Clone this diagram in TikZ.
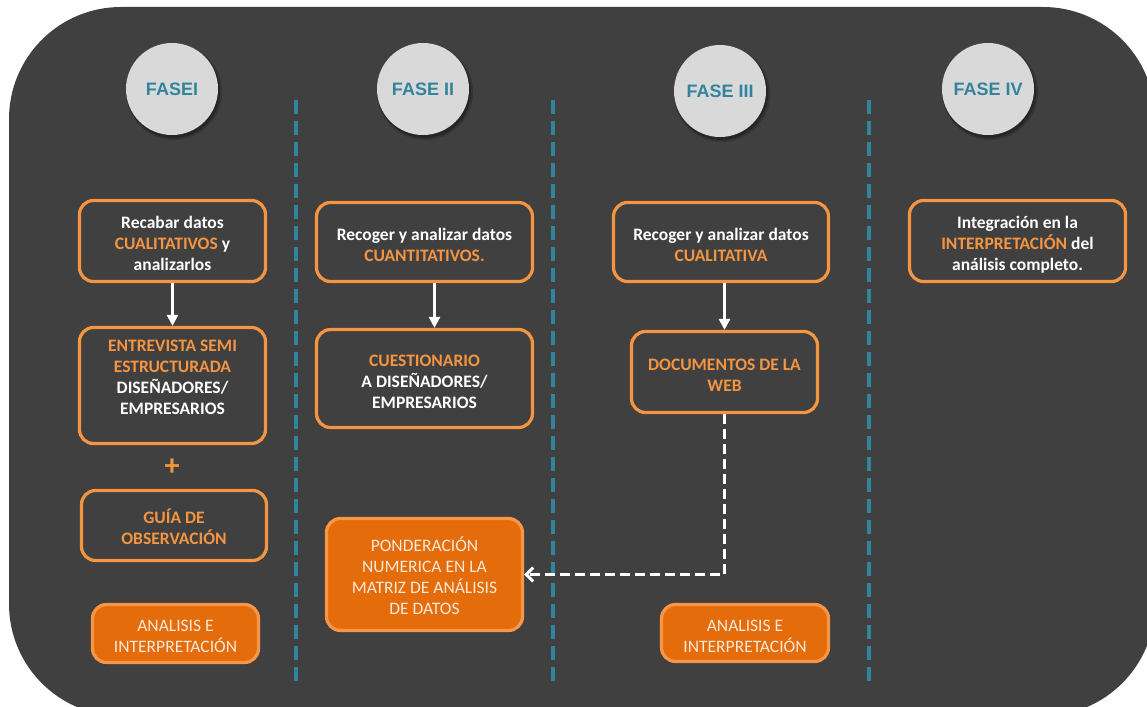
\documentclass[tikz,border=0pt]{standalone}
\usepackage{fontspec}
\setmainfont{Carlito}
\newfontfamily\arialfont{Liberation Sans}
\usetikzlibrary{arrows.meta}
\definecolor{bg}{HTML}{404040}
\definecolor{orgline}{HTML}{F59541}
\definecolor{ot}{HTML}{F59541}
\definecolor{fillorg}{HTML}{E46C0A}
\definecolor{fillline}{HTML}{F79646}
\definecolor{cream}{HTML}{FDE9D9}
\definecolor{teal}{HTML}{31849B}
\definecolor{cgray}{HTML}{D9D9D9}
\newcommand{\boxtext}[2][-8.7pt]{\raisebox{#1}[0pt][0pt]{\begin{tabular}{@{}c@{}}#2\end{tabular}}}
\tikzset{
  fasecirc/.style={circle, fill=cgray, minimum size=92pt, inner sep=0pt,
    font=\arialfont\fontsize{18}{20}\selectfont\bfseries, text=teal},
  darkbox/.style={draw=orgline, line width=3.2pt, rounded corners=14pt, fill=bg,
    text=white, inner sep=0pt,
    font=\fontsize{17.5}{21}\selectfont\bfseries},
  orgbox/.style={draw=fillline, line width=3.2pt, rounded corners=14pt, fill=fillorg,
    text=cream, inner sep=0pt,
    font=\fontsize{17.5}{21}\selectfont},
  sz/.style 2 args={minimum width=#1pt, minimum height=#2pt},
  warrow/.style={draw=white, line width=2.5pt, -{Triangle[length=11pt,width=11pt]}},
  darrow/.style={draw=white, line width=3pt, dash pattern=on 10pt off 5pt,
    -{Straight Barb[length=7pt,width=14pt,line width=3pt]}},
  phaseline/.style={draw=teal, line width=4.5pt, dash pattern=on 14pt off 7pt},
  shadowc/.style={fill=black, opacity=#1}
}
\begin{document}
\begin{tikzpicture}[x=1pt,y=-1pt]
\clip (0,0) rectangle (1147,706);
\fill[white] (0,0) rectangle (1147,706);
\fill[bg, rounded corners=112pt] (9,7) rectangle (1155,716);

% phase separators
\foreach \xx in {296,553,869} \draw[phaseline] (\xx,100) -- (\xx,681);

% circle shadows
\foreach \cx/\cy in {172/89,423/89,720/91,988/89}{
  \fill[shadowc=0.18] (\cx+2,\cy+3) circle (48pt);
  \fill[shadowc=0.25] (\cx+1.5,\cy+2.5) circle (46.5pt);
}
\node[fasecirc] (f1) at (172,89) {FASEI};
\node[fasecirc] (f2) at (423,89) {FASE II};
\node[fasecirc] (f3) at (720,91) {FASE III};
\node[fasecirc] (f4) at (988,89) {FASE IV};

% phase I
\node[darkbox, sz={186}{81}] (a1) at (172.5,241) {\boxtext{Recabar datos\\\textcolor{ot}{CUALITATIVOS} y\\analizarlos}};
\node[darkbox, sz={186}{116}] (a2) at (172.5,385.5) {\boxtext[2.6pt]{\textcolor{ot}{ENTREVISTA SEMI}\\\textcolor{ot}{ESTRUCTURADA}\\DISEÑADORES/\\EMPRESARIOS}};
\node[text=ot, font=\fontsize{30}{30}\selectfont\bfseries] (plus) at (172,467) {+};
\node[darkbox, sz={185}{70}, text=ot] (a3) at (174,525.5) {\boxtext{GUÍA DE\\OBSERVACIÓN}};
\node[orgbox, sz={166}{58}] (a4) at (175.5,633.5) {\boxtext{ANALISIS E\\INTERPRETACIÓN}};

% phase II
\node[darkbox, sz={216}{79}] (b1) at (424.5,242) {\boxtext{Recoger y analizar datos\\\textcolor{ot}{CUANTITATIVOS.}}};
\node[darkbox, sz={216}{98}] (b2) at (424.5,378.5) {\boxtext{\textcolor{ot}{CUESTIONARIO}\\A DISEÑADORES/\\EMPRESARIOS}};
\node[orgbox, sz={196}{112}] (b3) at (424.5,574.5) {\boxtext{PONDERACIÓN\\NUMERICA EN LA\\MATRIZ DE ANÁLISIS\\DE DATOS}};

% phase III
\node[darkbox, sz={215}{79}] (c1) at (721,242) {\boxtext{Recoger y analizar datos\\\textcolor{ot}{CUALITATIVA}}};
\node[darkbox, sz={186}{81}, text=ot] (c2) at (724.5,372) {\boxtext{DOCUMENTOS DE LA\\WEB}};
\node[orgbox, sz={167}{57}] (c4) at (745,633) {\boxtext{ANALISIS E\\INTERPRETACIÓN}};

% phase IV
\node[darkbox, sz={216}{81}] (d1) at (1017.5,241) {\boxtext{Integración en la\\\textcolor{ot}{INTERPRETACIÓN} del\\análisis completo.}};

% connectors
\draw[warrow] (a1.south) -- (a2.north);
\draw[warrow] ([xshift=10pt]b1.south) -- ([xshift=10pt]b1.south |- b2.north);
\draw[warrow] (c2.north |- c1.south) -- (c2.north);
\draw[darrow] (c2.south) |- (b3.east);
\end{tikzpicture}
\end{document}
